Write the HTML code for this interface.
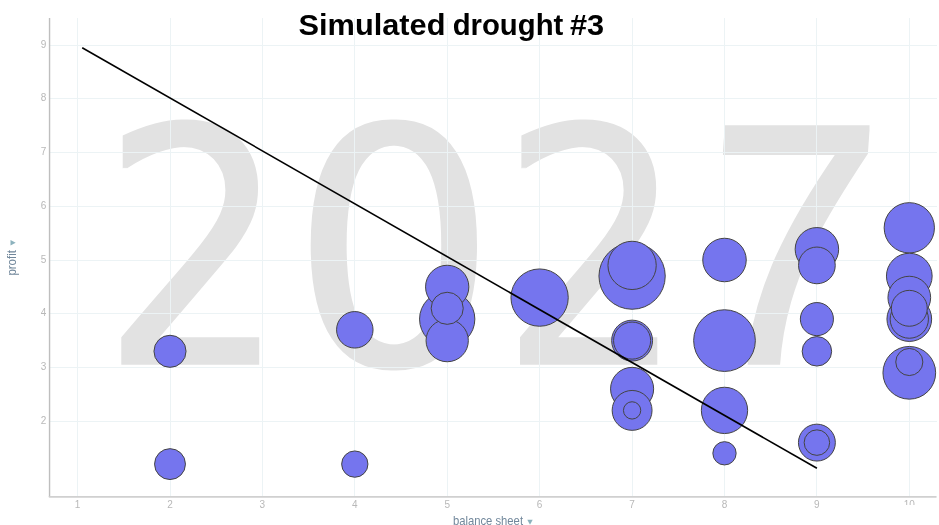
<!DOCTYPE html>
<html lang="en"><head><meta charset="utf-8"><title>Simulated drought #3</title>
<style>
html,body{margin:0;padding:0;background:#fff;}
body{width:939px;height:525px;overflow:hidden;position:relative;font-family:"Liberation Sans",sans-serif;}
svg{position:absolute;left:0;top:0;display:block;}
.grid line{stroke:#ecf3f5;stroke-width:1;}
.tick{font-family:"Liberation Sans",sans-serif;font-size:10px;fill:#b8b8b8;}
.axl{font-family:"Liberation Sans",sans-serif;font-size:12.6px;fill:#71879b;}
.tri{fill:#8cb2bd;}
.year{fill:#e2e2e2;}
.bub circle{fill:#7575ee;stroke:#444;stroke-width:1;}
.title{font-family:"Liberation Sans",sans-serif;font-weight:bold;font-size:29px;fill:#000;}
</style></head><body>
<svg width="939" height="525" viewBox="0 0 939 525">
<rect width="939" height="525" fill="#fff"/>

<defs>
<filter id="m20" filterUnits="userSpaceOnUse" x="0" y="0" width="939" height="525"><feMorphology operator="dilate" radius="2 0"/></filter>
<filter id="m22" filterUnits="userSpaceOnUse" x="0" y="0" width="939" height="525"><feMorphology operator="dilate" radius="2 2"/></filter>
</defs>
<g class="year" aria-label="2027"><g filter="url(#m20)"><text x="0" y="0" style="font-family:&quot;DejaVu Sans&quot;,&quot;Liberation Sans&quot;,sans-serif;font-size:330px" transform="translate(102.11,364.80) scale(0.8766,1.0015)">2</text></g><g filter="url(#m20)"><text x="0" y="0" style="font-family:&quot;DejaVu Sans&quot;,&quot;Liberation Sans&quot;,sans-serif;font-size:330px" transform="translate(291.47,365.80) scale(0.9760,1.0056)">0</text></g><g filter="url(#m20)"><text x="0" y="0" style="font-family:&quot;DejaVu Sans&quot;,&quot;Liberation Sans&quot;,sans-serif;font-size:330px" transform="translate(500.91,364.80) scale(0.8726,1.0015)">2</text></g><g filter="url(#m22)"><text x="0" y="0" style="font-family:&quot;Liberation Sans&quot;,sans-serif;font-size:348px" transform="translate(694.45,362.80) skewX(-4) scale(0.8900,0.9836)">7</text></g></g>
<g class="grid">
<line x1="77.5" y1="18" x2="77.5" y2="496"/>
<line x1="170.5" y1="18" x2="170.5" y2="496"/>
<line x1="262.5" y1="18" x2="262.5" y2="496"/>
<line x1="354.5" y1="18" x2="354.5" y2="496"/>
<line x1="447.5" y1="18" x2="447.5" y2="496"/>
<line x1="539.5" y1="18" x2="539.5" y2="496"/>
<line x1="632.5" y1="18" x2="632.5" y2="496"/>
<line x1="724.5" y1="18" x2="724.5" y2="496"/>
<line x1="816.5" y1="18" x2="816.5" y2="496"/>
<line x1="909.5" y1="18" x2="909.5" y2="496"/>
<line x1="50" y1="421.5" x2="937" y2="421.5"/>
<line x1="50" y1="367.5" x2="937" y2="367.5"/>
<line x1="50" y1="313.5" x2="937" y2="313.5"/>
<line x1="50" y1="260.5" x2="937" y2="260.5"/>
<line x1="50" y1="206.5" x2="937" y2="206.5"/>
<line x1="50" y1="152.5" x2="937" y2="152.5"/>
<line x1="50" y1="98.5" x2="937" y2="98.5"/>
<line x1="50" y1="45.5" x2="937" y2="45.5"/>
</g>
<line x1="49.55" y1="18" x2="49.55" y2="497" stroke="#bebebe" stroke-width="1.4"/>
<path d="M49.55 496.2v0.6h887" fill="none" stroke="#d0d0d0" stroke-width="1.8" stroke-linejoin="round"/>
<text class="tick" x="43.5" y="424.4" text-anchor="middle">2</text>
<text class="tick" x="43.5" y="370.4" text-anchor="middle">3</text>
<text class="tick" x="43.5" y="316.4" text-anchor="middle">4</text>
<text class="tick" x="43.5" y="263.4" text-anchor="middle">5</text>
<text class="tick" x="43.5" y="209.4" text-anchor="middle">6</text>
<text class="tick" x="43.5" y="155.4" text-anchor="middle">7</text>
<text class="tick" x="43.5" y="101.4" text-anchor="middle">8</text>
<text class="tick" x="43.5" y="48.4" text-anchor="middle">9</text>
<text class="tick" x="77.6" y="507.8" text-anchor="middle">1</text>
<text class="tick" x="170.0" y="507.8" text-anchor="middle">2</text>
<text class="tick" x="262.4" y="507.8" text-anchor="middle">3</text>
<text class="tick" x="354.8" y="507.8" text-anchor="middle">4</text>
<text class="tick" x="447.2" y="507.8" text-anchor="middle">5</text>
<text class="tick" x="539.6" y="507.8" text-anchor="middle">6</text>
<text class="tick" x="632.1" y="507.8" text-anchor="middle">7</text>
<text class="tick" x="724.5" y="507.8" text-anchor="middle">8</text>
<text class="tick" x="816.9" y="507.8" text-anchor="middle">9</text>
<clipPath id="c10"><rect x="890" y="498" width="49" height="7.1"/></clipPath>
<text class="tick" clip-path="url(#c10)" x="909.3" y="507.8" text-anchor="middle">10</text>
<text class="axl" transform="translate(452.9,524.5) scale(0.895,1)">balance sheet</text>
<path class="tri" d="M527.3 519.7h5.4l-2.7 5z"/>
<text class="axl" transform="translate(15.8,275.6) rotate(-90) scale(0.913,1)">profit</text>
<path class="tri" d="M10.5 245.4v-5.4l5.2 2.7z"/>
<g class="bub">
<circle cx="632.1" cy="276.1" r="33.15"/>
<circle cx="724.5" cy="340.6" r="30.85"/>
<circle cx="539.6" cy="297.6" r="28.65"/>
<circle cx="447.2" cy="319.1" r="27.65"/>
<circle cx="909.3" cy="372.8" r="26.35"/>
<circle cx="909.3" cy="227.8" r="25.15"/>
<circle cx="632.1" cy="265.4" r="24.15"/>
<circle cx="724.5" cy="410.4" r="23.15"/>
<circle cx="909.3" cy="276.1" r="22.85"/>
<circle cx="909.3" cy="319.1" r="22.35"/>
<circle cx="724.5" cy="260.0" r="21.75"/>
<circle cx="816.9" cy="249.3" r="21.75"/>
<circle cx="447.2" cy="286.9" r="21.65"/>
<circle cx="632.1" cy="388.9" r="21.55"/>
<circle cx="909.3" cy="297.6" r="21.35"/>
<circle cx="447.2" cy="340.6" r="21.15"/>
<circle cx="632.1" cy="340.6" r="20.45"/>
<circle cx="632.1" cy="410.4" r="19.95"/>
<circle cx="909.3" cy="319.1" r="19.15"/>
<circle cx="632.1" cy="340.6" r="18.55"/>
<circle cx="816.9" cy="442.6" r="18.45"/>
<circle cx="816.9" cy="265.4" r="18.35"/>
<circle cx="354.8" cy="329.8" r="18.25"/>
<circle cx="909.3" cy="308.3" r="17.95"/>
<circle cx="816.9" cy="319.1" r="16.55"/>
<circle cx="170.0" cy="351.3" r="16.05"/>
<circle cx="447.2" cy="308.3" r="16.05"/>
<circle cx="170.0" cy="464.1" r="15.45"/>
<circle cx="816.9" cy="351.3" r="14.75"/>
<circle cx="909.3" cy="362.0" r="13.55"/>
<circle cx="354.8" cy="464.1" r="13.15"/>
<circle cx="816.9" cy="442.6" r="12.75"/>
<circle cx="724.5" cy="453.3" r="11.65"/>
<circle cx="632.1" cy="410.4" r="8.65"/>
</g>
<line x1="82.2" y1="47.7" x2="816.9" y2="468.3" stroke="#000" stroke-width="1.6"/>
<text class="title" y="34.8"><tspan x="298.5" textLength="147" lengthAdjust="spacingAndGlyphs">Simulated</tspan> <tspan x="452.65" textLength="110.7" lengthAdjust="spacingAndGlyphs">drought</tspan> <tspan x="570" textLength="34.2" lengthAdjust="spacingAndGlyphs">#3</tspan></text>
</svg>
</body></html>
